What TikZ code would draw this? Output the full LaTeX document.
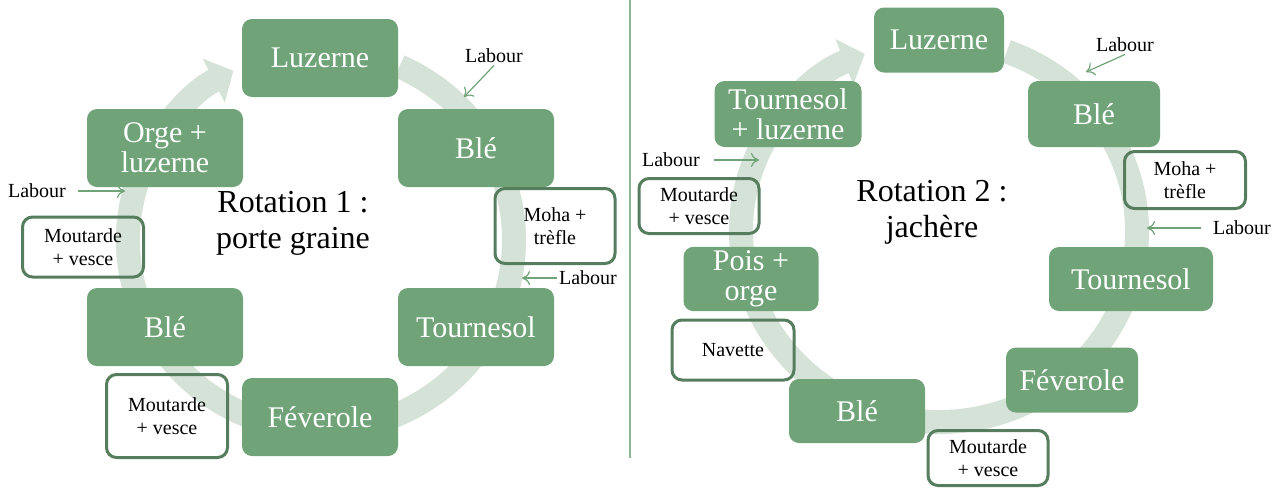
\documentclass[tikz,border=0pt]{standalone}
\usepackage{fontspec}
\setmainfont{Liberation Serif}
\usetikzlibrary{arrows.meta}
\definecolor{cropgreen}{RGB}{112,164,120}
\definecolor{ringgreen}{RGB}{213,226,215}
\definecolor{covergreen}{RGB}{86,126,94}

\begin{document}
\begin{tikzpicture}[x=0.5pt,y=-0.5pt]
    \tikzstyle{crop}=[rectangle,rounded corners=5pt,fill=cropgreen,text=white,font=\fontsize{15}{15}\selectfont,align=center,minimum width=78pt,minimum height=39pt,inner sep=2pt]
    \tikzstyle{cover}=[rectangle,rounded corners=5pt,draw=covergreen,line width=1.5pt,font=\fontsize{10}{11.5}\selectfont,align=center,inner sep=2pt]
    \tikzstyle{ring}=[draw=ringgreen,line width=12pt,-{Triangle[length=11pt,width=24pt]}]
    \tikzstyle{labour}=[font=\fontsize{10}{12}\selectfont,inner sep=1pt]
    \tikzstyle{pointer}=[draw=cropgreen,line width=0.6pt,-{To[length=4pt,width=7pt]}]
    \tikzstyle{title}=[font=\fontsize{16}{18}\selectfont,align=center]

    \useasboundingbox (0,0) rectangle (1280,488);
    \draw[cropgreen!80,line width=0.6pt] (630,0) -- (630,458);

    \path[ring] (321,240) ++(-66:193 and 190) arc[start angle=-66,end angle=243,x radius=193,y radius=190];
    \path[ring] (939,231) ++(-70:198 and 191) arc[start angle=-70,end angle=248,x radius=198,y radius=191];

    \node[crop] (A-1) at (320,58) {Luzerne};
    \node[crop] (A-2) at (476,148) {Blé};
    \node[crop] (A-3) at (476,327) {Tournesol};
    \node[crop] (A-4) at (320,417) {Féverole};
    \node[crop] (A-5) at (165,327) {Blé};
    \node[crop] (A-6) at (165,148) {Orge +\\luzerne};

    \node[cover,minimum width=60pt,minimum height=37.5pt] (C-1) at (555,226) {Moha +\\trèfle};
    \node[cover,minimum width=60.5pt,minimum height=30pt] (C-2) at (83,247) {Moutarde\\+ vesce};
    \node[cover,minimum width=60.5pt,minimum height=41.5pt] (C-3) at (167,416) {Moutarde\\+ vesce};

    \node[title] (T-1) at (293,223) {Rotation 1 :\\porte graine};

    \node[labour] (L-1) at (494,56) {Labour};
    \coordinate (l-1) at (464,97);
    \draw[pointer] (L-1.south) -- (l-1);
    \node[labour] (L-2) at (37,191) {Labour};
    \coordinate (l-2) at (125,191);
    \draw[pointer,shorten <=5pt] (L-2) -- (l-2);
    \node[labour] (L-3) at (588,278) {Labour};
    \coordinate (l-3) at (522,278);
    \draw[pointer] (L-3) -- (l-3);

    \node[crop,minimum width=65pt,minimum height=32.5pt] (B-1) at (939,40) {Luzerne};
    \node[crop,minimum width=66pt,minimum height=33pt] (B-2) at (1094,114) {Blé};
    \node[crop,minimum width=82pt,minimum height=32pt] (B-3) at (1131,279) {Tournesol};
    \node[crop,minimum width=66pt,minimum height=32.5pt] (B-4) at (1072,380) {Féverole};
    \node[crop,minimum width=68pt,minimum height=32pt] (B-5) at (857,411) {Blé};
    \node[crop,minimum width=67.5pt,minimum height=32pt] (B-6) at (751,279) {Pois +\\orge};
    \node[crop,minimum width=73.5pt,minimum height=33pt] (B-7) at (788,114) {Tournesol\\+ luzerne};

    \node[cover,minimum width=60.5pt,minimum height=28.5pt] (D-1) at (1185,180) {Moha +\\trèfle};
    \node[cover,minimum width=60pt,minimum height=27.5pt] (D-2) at (699,206) {Moutarde\\+ vesce};
    \node[cover,minimum width=61pt,minimum height=30pt] (D-3) at (733,350) {Navette};
    \node[cover,minimum width=60pt,minimum height=27.5pt] (D-4) at (988,458) {Moutarde\\+ vesce};

    \node[title] (T-2) at (932,212) {Rotation 2 :\\jachère};

    \node[labour] (L-4) at (1125,45) {Labour};
    \coordinate (l-4) at (1086,72);
    \draw[pointer] (L-4.south) -- (l-4);
    \node[labour] (L-5) at (671,160) {Labour};
    \coordinate (l-5) at (759,160);
    \draw[pointer,shorten <=6pt] (L-5) -- (l-5);
    \node[labour] (L-6) at (1242,228) {Labour};
    \coordinate (l-6) at (1147,228);
    \draw[pointer,shorten <=5pt] (L-6) -- (l-6);
\end{tikzpicture}
\end{document}
